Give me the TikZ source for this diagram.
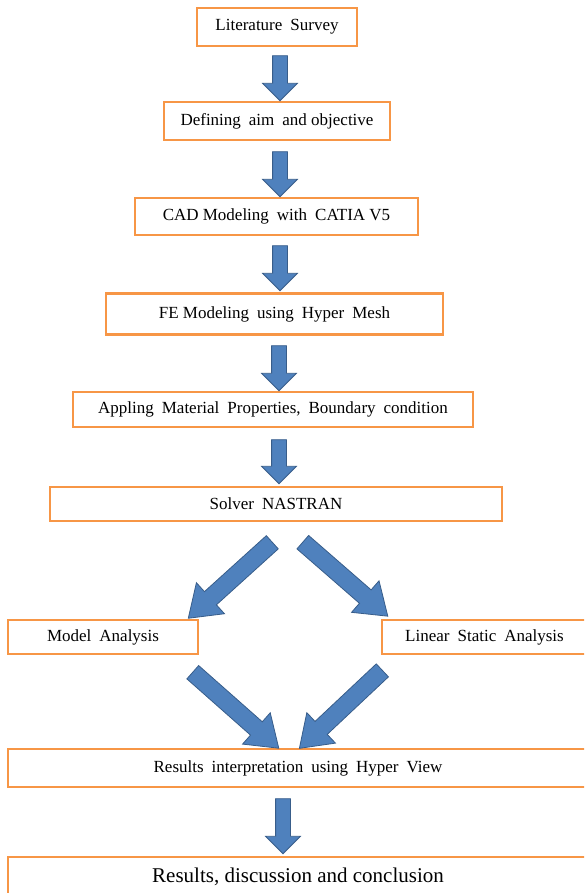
\documentclass[tikz,border=0pt]{standalone}
\usepackage{fontspec}
\setmainfont{Liberation Serif}
\usetikzlibrary{calc,shapes.arrows}

\definecolor{boxorange}{HTML}{F79646}
\definecolor{arrowblue}{HTML}{4F81BD}
\definecolor{arrowedge}{HTML}{385D8A}

\newcommand\stagefont{\fontsize{17}{20}\selectfont\spaceskip 8pt plus 1pt\relax}
\newcommand\ns{\hspace{4.2pt}}
\newcommand\blockarrow[3]{%
  \path let \p1=($(#3)-(#2)$), \n1={atan2(\y1,\x1)}, \n2={veclen(\x1,\y1)} in
    node[#1, minimum height=\n2, rotate=\n1] at ($(#2)!0.5!(#3)$) {};}

\tikzset{
  stage/.style={draw=boxorange, line width=2.8pt, fill=white, inner sep=0pt,
    font=\stagefont},
  downarrow/.style={single arrow, draw=arrowedge, fill=arrowblue, line width=0.8pt,
    inner xsep=0pt, inner ysep=7pt, single arrow head extend=10pt,
    single arrow tip angle=90},
  slantarrow/.style={downarrow, inner ysep=8.5pt, single arrow head extend=12pt,
    single arrow tip angle=70},
}

\begin{document}
\begin{tikzpicture}[x=1pt, y=-1pt]
  \useasboundingbox (0,0) rectangle (584,893);
  \clip (0,0) rectangle (584,893);

  % stages
  \node[stage, minimum width=160pt, minimum height=38pt] (lit) at (277,27) {Literature Survey};
  \node[stage, minimum width=226pt, minimum height=38pt] (aim) at (277,121) {Defining aim and\ns objective};
  \node[stage, minimum width=283pt, minimum height=37pt] (cad) at (276.5,216.5) {CAD\ns Modeling with CATIA\ns V5};
  \node[stage, minimum width=337pt, minimum height=41pt] (fem) at (274.5,314) {FE\ns Modeling using Hyper Mesh};
  \node[stage, minimum width=400pt, minimum height=35pt] (mat) at (273,409.5) {Appling Material Properties, Boundary condition};
  \node[stage, minimum width=452pt, minimum height=34pt] (sol) at (276,504) {Solver NASTRAN};

  % two analyses
  \node[stage, minimum width=190pt, minimum height=34pt] (modal) at (103,637) {Model Analysis};
  \node[stage, minimum width=205pt, minimum height=34pt] (lin) at (484.5,637) {Linear Static Analysis};

  % results
  \node[stage, minimum width=580pt, minimum height=38pt] (res) at (298,768) {Results interpretation using Hyper View};
  \node[stage, minimum width=580pt, minimum height=40pt, font=\fontsize{21}{24}\selectfont] (con) at (298,877) {Results, discussion and conclusion};

  % arrow ends
  \coordinate (t1) at (280,52);   \coordinate (h1) at (280,97);
  \coordinate (t2) at (280,148);  \coordinate (h2) at (280,193);
  \coordinate (t3) at (280,242);  \coordinate (h3) at (280,287);
  \coordinate (t4) at (279,342);  \coordinate (h4) at (279,387);
  \coordinate (t5) at (279,436);  \coordinate (h5) at (279,480);
  \coordinate (t6) at (277,538);  \coordinate (h6) at (193,614);
  \coordinate (t7) at (298,538);  \coordinate (h7) at (383,612);
  \coordinate (t8) at (188,668);  \coordinate (h8) at (274,744);
  \coordinate (t9) at (387,666);  \coordinate (h9) at (304,744);
  \coordinate (t10) at (283,795); \coordinate (h10) at (283,850);

  \blockarrow{downarrow}{t1}{h1}
  \blockarrow{downarrow}{t2}{h2}
  \blockarrow{downarrow}{t3}{h3}
  \blockarrow{downarrow}{t4}{h4}
  \blockarrow{downarrow}{t5}{h5}
  \blockarrow{slantarrow}{t6}{h6}
  \blockarrow{slantarrow}{t7}{h7}
  \blockarrow{slantarrow}{t8}{h8}
  \blockarrow{slantarrow}{t9}{h9}
  \blockarrow{downarrow}{t10}{h10}
\end{tikzpicture}
\end{document}
